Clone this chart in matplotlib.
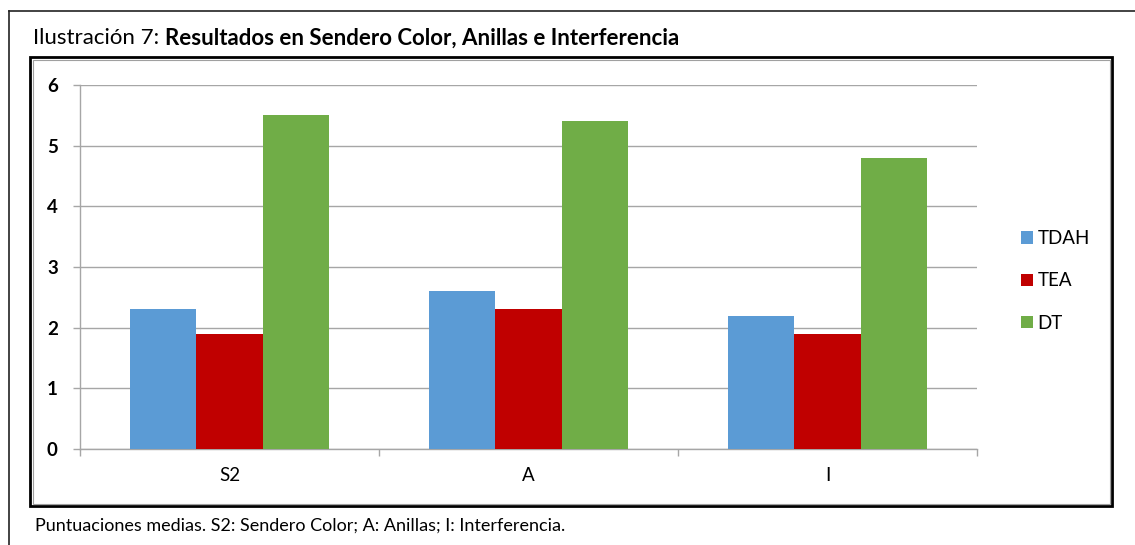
import numpy as np
import matplotlib
matplotlib.use("Agg")
import matplotlib.pyplot as plt
from matplotlib.patches import Rectangle
from matplotlib.lines import Line2D

# Datos: puntuaciones medias por prueba y grupo
categorias = ["S2", "A", "I"]
grupos = ["TDAH", "TEA", "DT"]
tdah = [2.3, 2.6, 2.2]
tea = [1.9, 2.3, 1.9]
dt = [5.5, 5.4, 4.8]
colores = ["#5B9BD5", "#C00000", "#70AD47"]

titulo_normal = "Ilustración 7: "
titulo_negrita = "Resultados en Sendero Color, Anillas e Interferencia"
pie = "Puntuaciones medias. S2: Sendero Color; A: Anillas; I: Interferencia."

plt.rcParams["font.family"] = ["Lato", "DejaVu Sans"]

W, H = 1135, 545
fig = plt.figure(figsize=(W / 100, H / 100), dpi=100)


def fx(px):
    return px / W


def fy(py):
    return 1 - py / H


# Marco exterior (solo borde superior e izquierdo visibles)
fig.add_artist(Line2D([fx(9), fx(1135)], [fy(11), fy(11)], color="#222222", lw=1.2))
fig.add_artist(Line2D([fx(9), fx(9)], [fy(11), fy(545)], color="#222222", lw=1.2))

# Marco del grafico
fig.add_artist(Rectangle((fx(30), fy(506)), fx(1112) - fx(30), fy(57) - fy(506),
                         fill=False, edgecolor="black", lw=2.0))
fig.add_artist(Rectangle((fx(32.5), fy(503.5)), fx(1109.5) - fx(32.5), fy(59.5) - fy(503.5),
                         fill=False, edgecolor="#A0A0A0", lw=0.8))

ax = fig.add_axes([fx(80), fy(449), fx(977) - fx(80), fy(85) - fy(449)])

x = np.arange(len(categorias))
ancho = 0.2222
for i, (serie, nombre) in enumerate(zip([tdah, tea, dt], grupos)):
    ax.bar(x + (i - 1) * ancho, serie, width=ancho, color=colores[i], label=nombre, zorder=3)

ax.set_xlim(-0.5, 2.5)
ax.set_ylim(0, 6)
ax.set_yticks(range(0, 7))
ax.yaxis.grid(True, color="#A6A6A6", lw=1.0, zorder=0)
ax.set_axisbelow(True)

for s in ["top", "right"]:
    ax.spines[s].set_visible(False)
for s in ["left", "bottom"]:
    ax.spines[s].set_color("#A6A6A6")
    ax.spines[s].set_linewidth(1.0)

ax.set_xticks(x)
ax.set_xticklabels(categorias)
ax.set_xticks([-0.5, 0.5, 1.5, 2.5], minor=True)
ax.tick_params(axis="x", which="major", length=0, pad=13, labelsize=13.5)
ax.tick_params(axis="x", which="minor", length=5, color="#A6A6A6", width=1.0)
ax.tick_params(axis="y", length=5, color="#A6A6A6", width=1.0, pad=11, labelsize=13.5)
for lbl in ax.get_yticklabels():
    lbl.set_fontweight("bold")

leg = ax.legend(loc="center left", bbox_to_anchor=(fx(1013), fy(281)),
                bbox_transform=fig.transFigure, frameon=False, fontsize=13.5,
                handlelength=0.65, handleheight=0.65, handletextpad=0.25,
                labelspacing=1.35, borderaxespad=0)

# Titulo en dos partes: normal + negrita
t1 = fig.text(fx(33), fy(38), titulo_normal, fontsize=16, va="center", ha="left")
fig.canvas.draw()
bb = t1.get_window_extent()
fig.text(bb.x1 / W, fy(38), titulo_negrita, fontsize=16, fontweight="bold",
         va="center", ha="left")

fig.text(fx(35), fy(526), pie, fontsize=13, va="center", ha="left")

fig.savefig("out.png", dpi=100)
